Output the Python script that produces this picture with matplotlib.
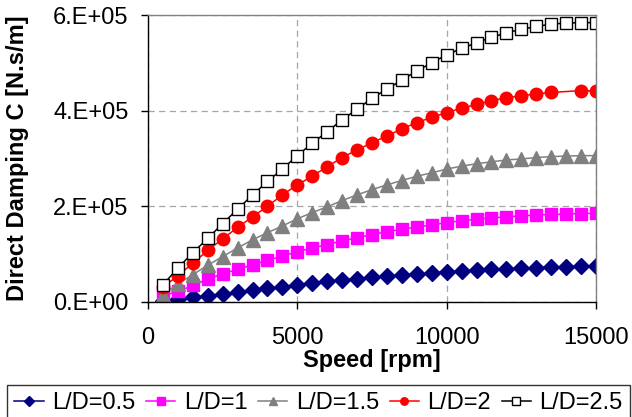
import matplotlib
matplotlib.use("Agg")
import matplotlib.pyplot as plt
from matplotlib.ticker import FuncFormatter

plt.rcParams['font.family'] = ['Liberation Sans', 'DejaVu Sans']

speed = [500, 1000, 1500, 2000, 2500, 3000, 3500, 4000, 4500, 5000,
         5500, 6000, 6500, 7000, 7500, 8000, 8500, 9000, 9500, 10000,
         10500, 11000, 11500, 12000, 12500, 13000, 13500, 14000, 14500, 15000]
# the L/D=2 series has no point at 14000 rpm
speed_ld2 = [s for s in speed if s != 14000]

c_ld05 = [2500, 6000, 10000, 13500, 17000, 21000, 25000, 28500, 32000, 35500,
          40000, 43000, 46000, 49000, 51500, 54000, 56500, 58500, 60500, 63000,
          65000, 67000, 68000, 69000, 70500, 72000, 73000, 74000, 75000, 76000]
c_ld1 = [13000, 22000, 34500, 47500, 59000, 68000, 78000, 87000, 96000, 105000,
         113000, 120000, 128000, 134000, 141000, 147000, 152000, 157000, 161000, 166000,
         170000, 173000, 176000, 178000, 180000, 182000, 183000, 184000, 185000, 185500]
c_ld15 = [15000, 38000, 57000, 77000, 95000, 113000, 130000, 145000, 159000, 174000,
          187000, 199000, 212000, 224000, 235000, 245000, 254000, 263000, 270000, 278000,
          284000, 289000, 293000, 297000, 299000, 302000, 304000, 305000, 306000, 306000]
c_ld2 = [31000, 55000, 81000, 108000, 132000, 156000, 178000, 200000, 224000, 245000,
         263000, 283000, 302000, 318000, 333000, 347000, 362000, 375000, 386000, 396000,
         405000, 413000, 421000, 427000, 431000, 435000, 438000, 442000, 441000]
c_ld25 = [36000, 71000, 103000, 133000, 164000, 194000, 224000, 252000, 278000, 306000,
          332000, 356000, 381000, 403000, 426000, 445000, 464000, 483000, 500000, 517000,
          530000, 542000, 553000, 563000, 570000, 576000, 581000, 583000, 584000, 584000]

labels = ["L/D=0.5", "L/D=1", "L/D=1.5", "L/D=2", "L/D=2.5"]


def sci_fmt(v, pos):
    if v == 0:
        return "0.E+00"
    exp = 0
    m = v
    while abs(m) >= 10:
        m /= 10
        exp += 1
    return f"{m:.0f}.E+{exp:02d}"


fig = plt.figure(figsize=(6.32, 4.17), dpi=100)
ax = fig.add_axes([148 / 632, 115 / 417, 448 / 632, 287 / 417])

lw = 1.1
ax.plot(speed, c_ld05, color='#000080', marker='D', ms=8, lw=lw, label=labels[0])
ax.plot(speed, c_ld1, color='#FF00FF', marker='s', ms=8.5, lw=lw, label=labels[1])
ax.plot(speed, c_ld15, color='#808080', marker='^', ms=10, lw=lw, label=labels[2])
ax.plot(speed_ld2, c_ld2, color='#FF0000', marker='o', ms=9, lw=lw, label=labels[3])
ax.plot(speed, c_ld25, color='black', marker='s', ms=8.5, mfc='white', mec='black',
        mew=1, lw=lw, label=labels[4])

ax.set_xlim(0, 15000)
ax.set_ylim(0, 600000)
ax.set_xticks([0, 5000, 10000, 15000])
ax.set_yticks([0, 200000, 400000, 600000])
ax.yaxis.set_major_formatter(FuncFormatter(sci_fmt))

ax.grid(True, color='#a6a6a6', linestyle=(0, (5, 3.5)), lw=0.9)
ax.set_axisbelow(True)

for side in ['left', 'bottom']:
    ax.spines[side].set_color('black')
    ax.spines[side].set_linewidth(1)
for side in ['top', 'right']:
    ax.spines[side].set_color('#808080')
    ax.spines[side].set_linewidth(1)

ax.tick_params(axis='both', direction='out', length=5, width=1, labelsize=17)
ax.tick_params(axis='x', pad=13)
ax.tick_params(axis='y', pad=9)

ax.set_xlabel("Speed [rpm]", fontsize=17, fontweight='bold')
ax.set_ylabel("Direct Damping C [N.s/m]", fontsize=17, fontweight='bold')
ax.xaxis.set_label_coords(0.5, -0.165)
ax.yaxis.set_label_coords(-0.266, 0.5)

leg = fig.legend(loc='upper center', bbox_to_anchor=(318.5 / 632, 1 - 385 / 417),
                 ncol=5, fontsize=17, frameon=True, fancybox=False,
                 handlelength=1.25, handletextpad=0.35, columnspacing=0.45,
                 markerscale=0.6, borderpad=0.3, borderaxespad=0)
leg.get_frame().set_edgecolor('black')
leg.get_frame().set_linewidth(1)

fig.savefig("out.png", dpi=100)
